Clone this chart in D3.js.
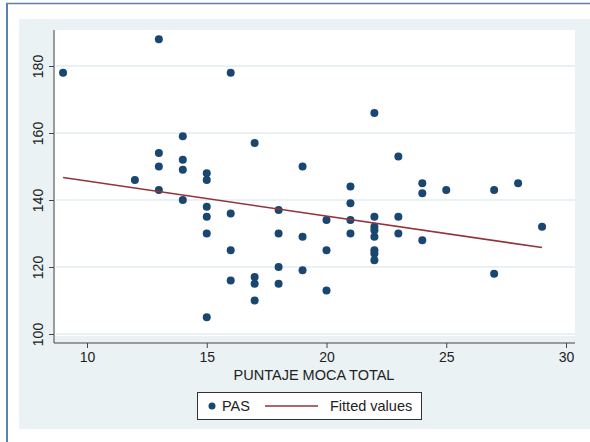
<!DOCTYPE html>
<html>
<head>
<meta charset="utf-8">
<script src="https://cdn.jsdelivr.net/npm/d3@7"></script>
<style>
  html, body { margin: 0; padding: 0; background: #fff; }
  svg { display: block; font-family: "Liberation Sans", Arial, sans-serif; }
</style>
</head>
<body>
<div id="app"></div>
<script>
// PUNTAJE MOCA TOTAL (x) and PAS (y), one entry per subject
const mocaScore = [
  9,
  12,
  13, 13, 13, 13,
  14, 14, 14, 14,
  15, 15, 15, 15, 15, 15,
  16, 16, 16, 16,
  17, 17, 17, 17,
  18, 18, 18, 18,
  19, 19, 19,
  20, 20, 20,
  21, 21, 21, 21,
  22, 22, 22, 22, 22, 22, 22, 22,
  23, 23, 23,
  24, 24, 24,
  25,
  27, 27,
  28,
  29
];
const pas = [
  178,
  146,
  188, 154, 150, 143,
  159, 152, 149, 140,
  148, 146, 138, 135, 130, 105,
  178, 136, 125, 116,
  157, 117, 115, 110,
  137, 130, 120, 115,
  150, 129, 119,
  134, 125, 113,
  144, 139, 134, 130,
  166, 135, 132, 131, 129, 125, 124, 122,
  153, 135, 130,
  145, 142, 128,
  143,
  143, 118,
  145,
  132
];

// fitted values line, read at the ends of the x range
const fittedX = [9, 29];
const fittedY = [146.7, 125.8];

const xTicks = [10, 15, 20, 25, 30];
const yTicks = [100, 120, 140, 160, 180];
const xTitle = "PUNTAJE MOCA TOTAL";
const legendLabels = ["PAS", "Fitted values"];

const width = 590, height = 442;
const navy = "#1a476f", maroon = "#90353b";

const x = d3.scaleLinear().domain([10, 30]).range([87, 566]);
const y = d3.scaleLinear().domain([100, 180]).range([334, 66]);

const svg = d3.select("#app").append("svg")
    .attr("width", width)
    .attr("height", height)
    .attr("viewBox", [0, 0, width, height]);

// outer frame (left + top rules)
svg.append("rect").attr("x", 0).attr("y", 0).attr("width", width).attr("height", height).attr("fill", "#fff");
svg.append("line").attr("x1", 7).attr("x2", 7).attr("y1", 3).attr("y2", height)
    .attr("stroke", "#5b82ab").attr("stroke-width", 2);
svg.append("line").attr("x1", 6).attr("x2", width).attr("y1", 3.5).attr("y2", 3.5)
    .attr("stroke", "#5b82ab").attr("stroke-width", 1.5);

// graph region
svg.append("rect").attr("x", 19).attr("y", 19).attr("width", width - 19).attr("height", 410)
    .attr("fill", "#eaf2f4");

// plot region
svg.append("rect").attr("x", 55).attr("y", 30).attr("width", 520).attr("height", 306)
    .attr("fill", "#fff");

// gridlines
svg.append("g")
  .selectAll("line")
  .data(yTicks)
  .join("line")
    .attr("x1", 56).attr("x2", 575)
    .attr("y1", d => y(d)).attr("y2", d => y(d))
    .attr("stroke", "#e2edf1").attr("stroke-width", 1.5);

// y axis
const yAxis = svg.append("g")
    .attr("transform", "translate(54,0)")
    .call(d3.axisLeft(y).tickValues(yTicks).tickSize(5).tickPadding(4));
yAxis.select(".domain").attr("d", `M0,30V343`);
yAxis.selectAll("line, path").attr("stroke", "#444");
yAxis.selectAll("text")
    .attr("fill", "#222")
    .attr("font-size", 14)
    .attr("text-anchor", "middle")
    .attr("x", 0).attr("dy", 0)
    .attr("transform", d => `translate(-11,0) rotate(-90)`);

// x axis
const xAxis = svg.append("g")
    .attr("transform", "translate(0,343)")
    .call(d3.axisBottom(x).tickValues(xTicks).tickSize(5).tickPadding(4));
xAxis.select(".domain").attr("d", `M54,0H575`);
xAxis.selectAll("line, path").attr("stroke", "#444");
xAxis.selectAll("text").attr("fill", "#222").attr("font-size", 14);

svg.append("text")
    .attr("x", 314).attr("y", 380)
    .attr("text-anchor", "middle")
    .attr("font-size", 14.5)
    .attr("fill", "#222")
    .text(xTitle);

// points
svg.append("g")
  .selectAll("circle")
  .data(d3.range(pas.length))
  .join("circle")
    .attr("cx", i => x(mocaScore[i]))
    .attr("cy", i => y(pas[i]))
    .attr("r", 4)
    .attr("fill", navy);

// fitted line
svg.append("path")
    .datum(d3.range(fittedX.length))
    .attr("fill", "none")
    .attr("stroke", maroon)
    .attr("stroke-width", 1.6)
    .attr("d", d3.line().x(i => x(fittedX[i])).y(i => y(fittedY[i])));

// legend
const lg = svg.append("g");
lg.append("rect")
    .attr("x", 197.5).attr("y", 392.5).attr("width", 224).attr("height", 27)
    .attr("fill", "#fff").attr("stroke", "#333").attr("stroke-width", 1);
lg.append("circle").attr("cx", 212).attr("cy", 406).attr("r", 3.5).attr("fill", navy);
lg.append("text").attr("x", 222).attr("y", 411).attr("font-size", 14.5).attr("fill", "#222")
    .text(legendLabels[0]);
lg.append("line").attr("x1", 265).attr("x2", 318).attr("y1", 406).attr("y2", 406)
    .attr("stroke", maroon).attr("stroke-width", 1.6);
lg.append("text").attr("x", 330).attr("y", 411).attr("font-size", 14.5).attr("fill", "#222")
    .text(legendLabels[1]);
</script>
</body>
</html>
